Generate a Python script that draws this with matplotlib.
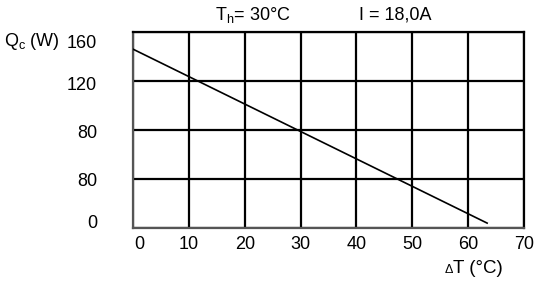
import matplotlib
matplotlib.use("Agg")
import matplotlib.pyplot as plt
import matplotlib.transforms as mtrans

plt.rcParams["font.family"] = ["Liberation Sans", "DejaVu Sans"]
plt.rcParams["mathtext.fontset"] = "custom"
plt.rcParams["mathtext.rm"] = "Liberation Sans"
plt.rcParams["mathtext.it"] = "Liberation Sans"

# data
delta_t = [0, 63.4]
qc = [146, 4]
x_ticks = [0, 10, 20, 30, 40, 50, 60, 70]
y_ticks = [0, 40, 80, 120, 160]
y_tick_labels = ["0", "80", "80", "120", "160"]

fig = plt.figure(figsize=(5.4, 2.84), dpi=100)
ax = fig.add_axes([133 / 540, 1 - 228 / 284, 391 / 540, 196 / 284])

ax.plot(delta_t, qc, color="black", linewidth=1.2, zorder=3)

ax.set_xlim(0, 70)
ax.set_ylim(0, 160)
ax.set_xticks(x_ticks)
ax.set_yticks(y_ticks)
ax.set_yticklabels(y_tick_labels)
ax.tick_params(length=0, labelsize=13)
ax.tick_params(axis="y", pad=26)
ax.tick_params(axis="x", pad=6)
ax.grid(True, color="black", linewidth=1.6)
for s in ax.spines.values():
    s.set_color("black")
    s.set_linewidth(1.6)
ax.spines["left"].set_color("#555555")
ax.spines["bottom"].set_color("#555555")

# the original labels are not exactly on their gridlines
y_shift = [-7, 1, 1, 2, 9]  # px downward
for lbl, dy in zip(ax.get_yticklabels(), y_shift):
    lbl.set_transform(lbl.get_transform() + mtrans.ScaledTranslation(0, -dy / 100, fig.dpi_scale_trans))
first = ax.get_xticklabels()[0]
first.set_transform(first.get_transform() + mtrans.ScaledTranslation(6 / 100, 0, fig.dpi_scale_trans))

fig.text(4 / 540, 1 - 41 / 284, r"Q$_\mathrm{c}$ (W)", fontsize=13, va="center", ha="left")
fig.text(215 / 540, 1 - 15 / 284, r"T$_\mathrm{h}$= 30°C", fontsize=13, va="center", ha="left")
fig.text(359 / 540, 1 - 15 / 284, "I = 18,0A", fontsize=13, va="center", ha="left")
fig.text(445 / 540, 1 - 273 / 284, "Δ", fontsize=9, va="baseline", ha="left")
fig.text(453 / 540, 1 - 273 / 284, "T (°C)", fontsize=13.5, va="baseline", ha="left")

fig.savefig("out.png", dpi=100)
